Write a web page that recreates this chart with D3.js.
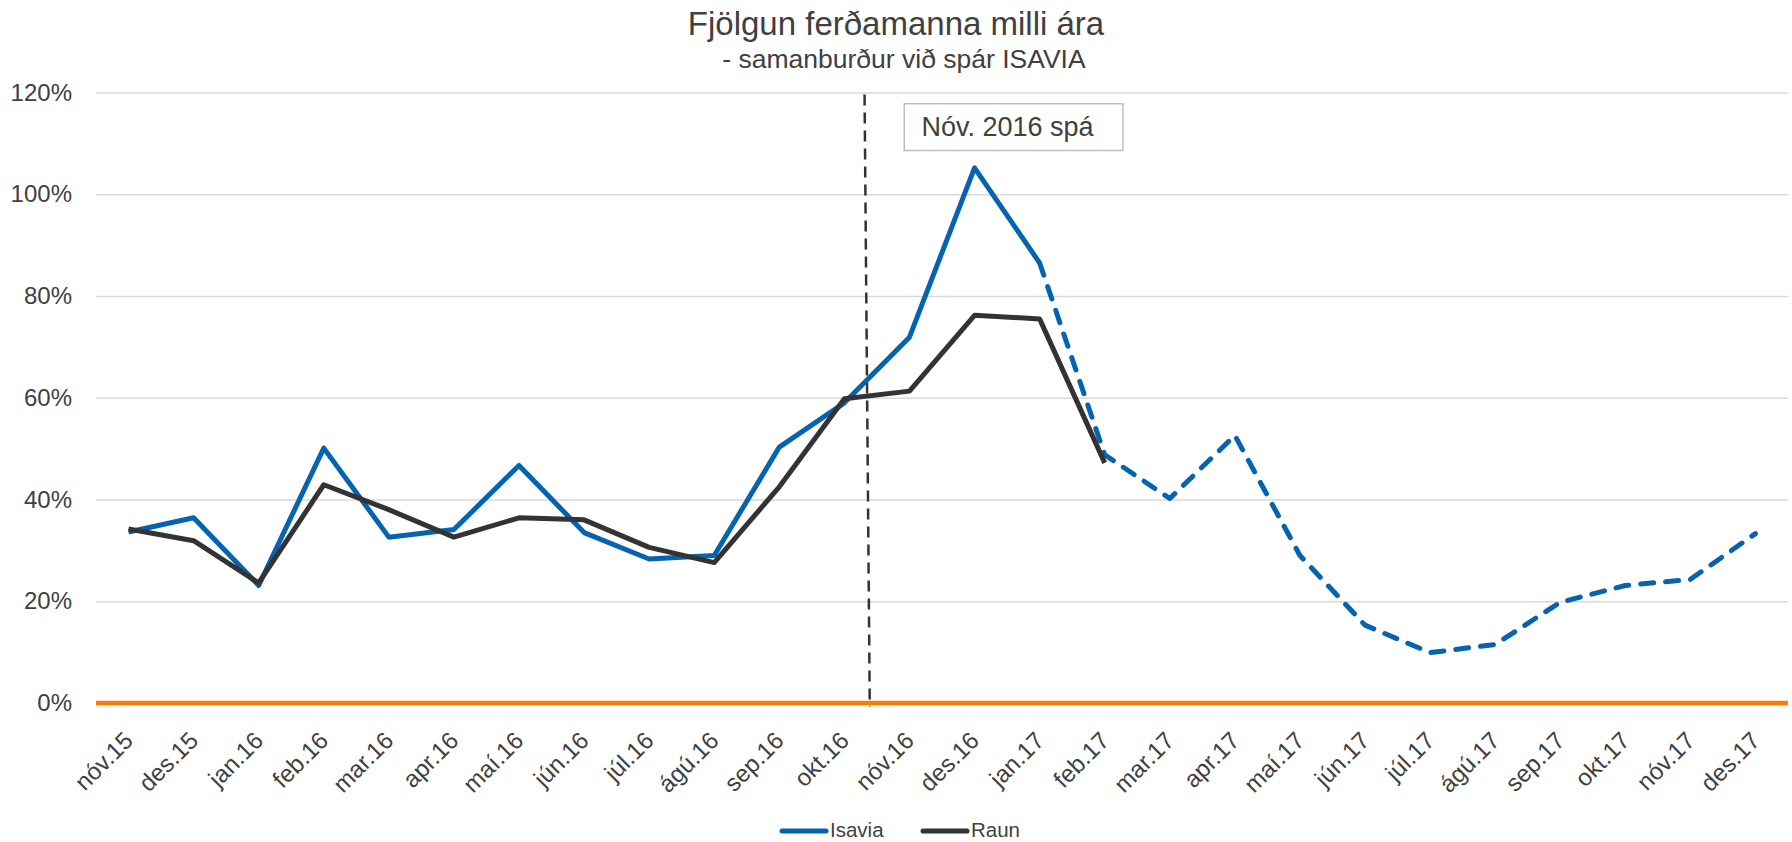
<!DOCTYPE html>
<html>
<head>
<meta charset="utf-8">
<script src="https://cdn.jsdelivr.net/npm/d3@7"></script>
<style>
  body { margin: 0; background: #fff; }
  svg text { font-family: "Liberation Sans", Arial, sans-serif; fill: #404040; }
</style>
</head>
<body>
<div id="chart"></div>
<script>
// categories (months)
var months = ['nóv.15','des.15','jan.16','feb.16','mar.16','apr.16','maí.16','jún.16','júl.16','ágú.16','sep.16','okt.16',
    'nóv.16','des.16','jan.17','feb.17','mar.17','apr.17','maí.17','jún.17','júl.17','ágú.17','sep.17','okt.17','nóv.17','des.17'];

// Isavia forecast (%), solid up to jan.17 then dashed
var isavia = [33.6, 36.4, 23.1, 50.1, 32.6, 34.1, 46.7, 33.5, 28.3, 29.0, 50.3, 59.0,
    71.9, 105.2, 86.5, 48.8, 40.2, 52.6, 29.0, 15.3, 9.9, 11.5, 19.8, 23.1, 24.3, 33.3];

// actual growth (%)
var raun = [34.2, 31.9, 23.6, 42.9, 38.0, 32.6, 36.4, 36.0, 30.6, 27.6, 42.5, 59.8,
    61.3, 76.2, 75.5, 47.2];

var yTicks = [0, 20, 40, 60, 80, 100, 120];
var forecastStart = 14; // jan.17, the dashed part begins here

var W = 1792, H = 842;
var margin = {t: 92.5, r: 4, b: 139, l: 96};
var width = W - margin.l - margin.r,
    height = H - margin.t - margin.b;

var svg = d3.select('#chart').append('svg')
    .attr('width', W)
    .attr('height', H);

var x = d3.scaleBand().domain(months).range([0, width]);
var xi = d3.scaleLinear().domain([0, 1]).range([x.bandwidth() / 2, x.bandwidth() * 1.5]); // index -> px
var y = d3.scaleLinear().domain([0, 120]).range([height, 0]);

var g = svg.append('g').attr('transform', 'translate(' + margin.l + ',' + margin.t + ')');

// title
svg.append('text').attr('x', 896).attr('y', 35).attr('text-anchor', 'middle')
    .style('font-size', '33px').text('Fjölgun ferðamanna milli ára');
svg.append('text').attr('x', 904).attr('y', 68).attr('text-anchor', 'middle')
    .style('font-size', '26.5px').text('- samanburður við spár ISAVIA');

// y axis gridlines
var axisY = d3.axisLeft(y).tickValues(yTicks).tickSize(-width).tickPadding(24)
    .tickFormat(function(d){ return d + '%'; });
g.append('g').attr('class', 'axis-y').call(axisY);
g.select('.axis-y .domain').remove();
g.selectAll('.axis-y line').attr('stroke', '#d9d9d9').attr('stroke-width', 1.5);
g.selectAll('.axis-y text').style('font-size', '24px').attr('fill', '#595959');

// orange zero line
g.append('line')
    .attr('x1', 0).attr('x2', width)
    .attr('y1', y(0)).attr('y2', y(0))
    .attr('stroke', '#ff7c00').attr('stroke-width', 4.5);

// x labels
g.append('g').selectAll('text').data(months).enter().append('text')
    .attr('transform', function(d){ return 'translate(' + (x(d) + x.bandwidth() / 2 + 6) + ',' + (height + 39) + ') rotate(-45)'; })
    .attr('text-anchor', 'end')
    .style('font-size', '24px')
    .attr('fill', '#595959')
    .text(function(d){ return d; });

// vertical divider (dashed)
g.append('line')
    .attr('x1', xi(11.31)).attr('y1', y(120) + 2)
    .attr('x2', xi(11.39)).attr('y2', y(0) + 4)
    .attr('stroke', '#333').attr('stroke-width', 2.5)
    .attr('stroke-dasharray', '11,7');

// annotation box
var boxX0 = xi(11.92), boxX1 = xi(15.28), boxY0 = y(117.8), boxY1 = y(108.6);
g.append('rect')
    .attr('x', boxX0).attr('y', boxY0)
    .attr('width', boxX1 - boxX0).attr('height', boxY1 - boxY0)
    .attr('fill', '#fff').attr('stroke', '#bfbfbf').attr('stroke-width', 1.5);
g.append('text')
    .attr('x', (boxX0 + boxX1) / 2 - 6).attr('y', (boxY0 + boxY1) / 2 + 9)
    .attr('text-anchor', 'middle')
    .style('font-size', '27px')
    .text('Nóv. 2016 spá');

var line = d3.line()
    .x(function(d){ return x(d.m) + x.bandwidth() / 2; })
    .y(function(d){ return y(d.v); });

var isaviaPts = isavia.map(function(v, i){ return {m: months[i], v: v}; });
var raunPts = raun.map(function(v, i){ return {m: months[i], v: v}; });

// isavia solid part
g.append('path').datum(isaviaPts.slice(0, forecastStart + 1))
    .attr('fill', 'none').attr('stroke', '#0563b0').attr('stroke-width', 5)
    .attr('stroke-linejoin', 'round')
    .attr('d', line);

// isavia forecast part (dashed)
g.append('path').datum(isaviaPts.slice(forecastStart))
    .attr('fill', 'none').attr('stroke', '#0563b0').attr('stroke-width', 5)
    .attr('stroke-linejoin', 'round').attr('stroke-linecap', 'round')
    .attr('stroke-dasharray', '13,12')
    .attr('d', line);

// raun
g.append('path').datum(raunPts)
    .attr('fill', 'none').attr('stroke', '#333333').attr('stroke-width', 5)
    .attr('stroke-linejoin', 'round')
    .attr('d', line);

// legend
var legend = [{name: 'Isavia', color: '#0563b0', x: 782}, {name: 'Raun', color: '#333333', x: 923}];
var lg = svg.append('g').selectAll('g').data(legend).enter().append('g');
lg.append('line')
    .attr('x1', function(d){ return d.x; }).attr('x2', function(d){ return d.x + 44; })
    .attr('y1', 831).attr('y2', 831)
    .attr('stroke', function(d){ return d.color; }).attr('stroke-width', 5)
    .attr('stroke-linecap', 'round');
lg.append('text')
    .attr('x', function(d){ return d.x + 48; }).attr('y', 837)
    .style('font-size', '20.5px').attr('fill', '#595959')
    .text(function(d){ return d.name; });
</script>
</body>
</html>
